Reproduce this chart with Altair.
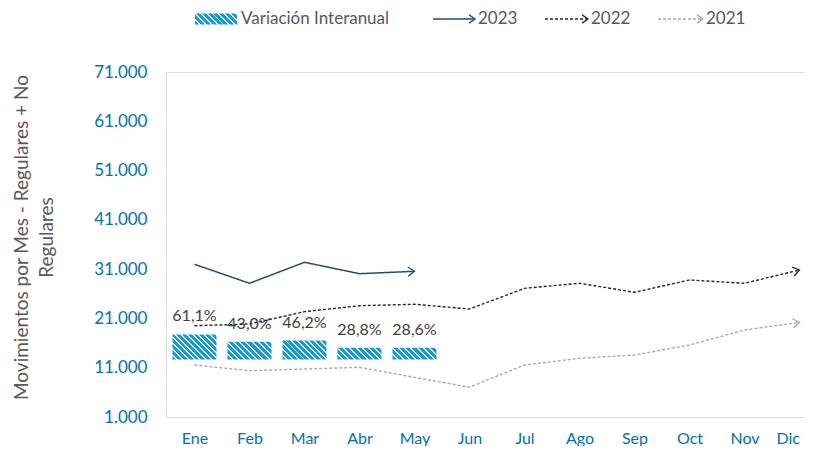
import math
import altair as alt
import pandas as pd

# ---------------- data ----------------
months = ["Ene", "Feb", "Mar", "Abr", "May", "Jun", "Jul", "Ago", "Sep", "Oct", "Nov", "Dic"]
serie_2023 = [31980, 28130, 32390, 30080, 30560]
serie_2022 = [19520, 19870, 22370, 23580, 23870, 22910, 27110, 28130, 26300, 28800, 28130, 30830]
serie_2021 = [11550, 10390, 10740, 11080, 9050, 7030, 11550, 12910, 13580, 15610, 18650, 20210]
variacion_pct = [61.1, 43.0, 46.2, 28.8, 28.6]
series_names = ["2023", "2022", "2021"]
bar_name = "Variación Interanual"
y_ticks = [1000, 11000, 21000, 31000, 41000, 51000, 61000, 71000]
y_title = ["Movimientos por Mes - Regulares + No", "Regulares"]

# ---------------- style / layout ----------------
FONT = "Lato"
PLOT_W, PLOT_H = 640, 345
Y_DOMAIN = [1000, 71000]
BAR_BASE = 12670          # where the (hidden) secondary axis has its zero
BAR_PX_PER_PCT = 0.41     # secondary-axis scale, pixels per percentage point
BAR_W = 44
STEP = 55.0
NAVY, BLACK, GRAY = "#1F4E79", "#262626", "#A6A6A6"
BLUE_LBL = "#0070C0"
HATCH_BLUE, HATCH_LIGHT = "#1C96D6", "#D4EDFA"
TXT = "#595959"
ARROW = "M-1,-0.7L0,0L-1,0.7"

px_per_unit = PLOT_H / (Y_DOMAIN[1] - Y_DOMAIN[0])
units_per_pct = BAR_PX_PER_PCT / px_per_unit


def hatch(w, h, period=4.2, frac=0.68):
    span = (w + h) / math.sqrt(2)
    n = max(1, round(span / period))
    d = w * w + h * h
    t = (w + h) * w / d
    s = (w + h) * h / d
    stops = []
    for k in range(n):
        a, b, c = k / n, (k + frac) / n, (k + 1) / n
        stops += [
            alt.GradientStop(offset=a, color=HATCH_BLUE),
            alt.GradientStop(offset=b, color=HATCH_BLUE),
            alt.GradientStop(offset=b, color=HATCH_LIGHT),
            alt.GradientStop(offset=min(c, 1.0), color=HATCH_LIGHT),
        ]
    return alt.LinearGradient(gradient="linear", x1=0, y1=1, x2=t, y2=1 - s, stops=stops)


# ---------------- tables ----------------
rows = []
for name, vals in zip(series_names, [serie_2023, serie_2022, serie_2021]):
    for m, v in zip(months, vals):
        rows.append({"month": m, "serie": name, "value": v})
lines_df = pd.DataFrame(rows)

arrow_rows = []
for name, vals in zip(series_names, [serie_2023, serie_2022, serie_2021]):
    dy = (vals[-1] - vals[-2]) * px_per_unit
    ang = math.degrees(math.atan2(dy, STEP))
    arrow_rows.append({"month": months[len(vals) - 1], "serie": name,
                       "value": vals[-1], "angle": (360 - ang) % 360})
arrow_df = pd.DataFrame(arrow_rows)

bar_df = pd.DataFrame({
    "month": months[:len(variacion_pct)],
    "pct": variacion_pct,
    "label": [f"{p:.1f}%".replace(".", ",") for p in variacion_pct],
})

# ---------------- scales / axes ----------------
x_scale = alt.Scale(type="point", domain=months, padding=0.318, align=0.814)
x_axis = alt.Axis(title=None, labelAngle=0, domain=False, ticks=False, grid=False,
                  labelFontSize=16, labelColor=BLUE_LBL, labelFont=FONT, labelPadding=13,
                  labelFlush=12)
y_axis = alt.Axis(values=y_ticks, domain=False, ticks=False, grid=False,
                  labelExpr="replace(format(datum.value, ','), ',', '.')",
                  labelFontSize=17, labelColor=BLUE_LBL, labelFont=FONT, labelPadding=19,
                  title=y_title, titleFontSize=19, titleFont=FONT, titleColor=TXT,
                  titleFontWeight="normal", titleAngle=270, titleAlign="center",
                  titleBaseline="top", titleX=-154, titleY=165, titleLineHeight=25)
y_scale = alt.Scale(domain=Y_DOMAIN, nice=False, zero=False)
color_scale = alt.Scale(domain=series_names, range=[NAVY, BLACK, GRAY])

X = alt.X("month:N", sort=months, scale=x_scale, axis=x_axis)
Y = alt.Y("value:Q", scale=y_scale, axis=y_axis)

lines = alt.Chart(lines_df).mark_line().encode(
    x=X, y=Y,
    color=alt.Color("serie:N", scale=color_scale, legend=None),
    strokeDash=alt.StrokeDash("serie:N", scale=alt.Scale(domain=series_names, range=[[1, 0], [3, 2], [3, 2]]), legend=None),
    strokeWidth=alt.StrokeWidth("serie:N", scale=alt.Scale(domain=series_names, range=[1.5, 1.3, 1.2]), legend=None),
)
arrows = alt.Chart(arrow_df).mark_point(shape=ARROW, filled=False, size=170, strokeWidth=1.3, opacity=1).encode(
    x=X, y=Y,
    color=alt.Color("serie:N", scale=color_scale, legend=None),
    angle=alt.Angle("angle:Q", scale=None),
)

bars_base = alt.Chart(bar_df).transform_calculate(
    base=f"{BAR_BASE}",
    value=f"{BAR_BASE} + datum.pct * {units_per_pct}",
)
bar_layers = []
for m, p in zip(bar_df["month"], bar_df["pct"]):
    bar_layers.append(
        bars_base.transform_filter(alt.datum.month == m)
        .mark_bar(size=BAR_W, fill=hatch(BAR_W, p * BAR_PX_PER_PCT))
        .encode(x=X, y=Y, y2=alt.Y2("base:Q"))
    )
bar_text = bars_base.mark_text(dy=-18, fontSize=16, font=FONT, color="#404040", baseline="middle").encode(
    x=X, y=Y, text="label:N")

# ---------------- legend (manual, above plot) ----------------
one = pd.DataFrame({"k": [0]})
LY = -53
LEG_FS = 17
leg = [
    alt.Chart(one).mark_rect(fill=hatch(42, 11)).encode(
        x=alt.value(29), x2=alt.value(71), y=alt.value(LY - 5.5), y2=alt.value(LY + 5.5)),
    alt.Chart(one).mark_text(text=bar_name, align="left", baseline="middle", fontSize=LEG_FS, font=FONT, color=TXT).encode(
        x=alt.value(75), y=alt.value(LY)),
]
leg_items = [("2023", NAVY, [1, 0], 267, 309), ("2022", BLACK, [3, 2], 379, 422), ("2021", GRAY, [3, 2], 492, 537)]
for name, col, dash, xa, xb in leg_items:
    leg += [
        alt.Chart(one).mark_rule(color=col, strokeDash=dash, strokeWidth=1.3).encode(
            x=alt.value(xa), x2=alt.value(xb - 1), y=alt.value(LY)),
        alt.Chart(one).mark_point(shape=ARROW, filled=False, size=140, strokeWidth=1.3, color=col, opacity=1).encode(
            x=alt.value(xb), y=alt.value(LY)),
        alt.Chart(one).mark_text(text=name, align="left", baseline="middle", fontSize=LEG_FS, font=FONT, color=TXT).encode(
            x=alt.value(xb + 3), y=alt.value(LY)),
    ]

# white edge mask over the plot's right border
edge_mask = alt.Chart(one).mark_rule(color="white", strokeWidth=4).encode(
    x=alt.value(PLOT_W), y=alt.value(-2), y2=alt.value(PLOT_H + 2))

chart = alt.layer(lines, arrows, *bar_layers, bar_text, *leg, edge_mask).properties(
    width=PLOT_W, height=PLOT_H,
    background="white",
    autosize=alt.AutoSizeParams(type="none"),
    padding={"left": 158, "top": 64, "right": 0, "bottom": 29},
).configure_view(stroke="transparent", strokeWidth=0, strokeOpacity=0).configure_axis(
    domain=False, gridOpacity=0, tickOpacity=0).configure(font=FONT)

chart.save("out.html", embed_options={"renderer": "svg", "actions": False})
